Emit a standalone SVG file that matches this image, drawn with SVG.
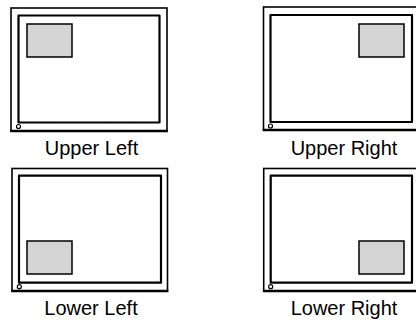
<svg xmlns="http://www.w3.org/2000/svg" width="416" height="320" viewBox="0 0 416 320">
<style>
.outer{fill:none;stroke:#000;stroke-width:1.6}
.base{fill:none;stroke:#000;stroke-width:2.4}
.inner{fill:#fff;stroke:#000;stroke-width:2.2;stroke-linejoin:round}
.win{fill:#d4d4d4;stroke:#000;stroke-width:1.5}
.dot{fill:#fff;stroke:#000;stroke-width:1.2}
.lbl{font-family:"Liberation Sans",Arial,sans-serif;font-size:20px;fill:#000;text-anchor:middle}
</style>
<rect width="416" height="320" fill="#fff"/>
<g id="upper-left">
<rect class="outer" x="11" y="8" width="156" height="123"/>
<line class="base" x1="10.2" y1="131" x2="167.8" y2="131"/>
<rect class="inner" x="18.5" y="15.5" width="141" height="107"/>
<rect class="win" x="27" y="24" width="45" height="33"/>
<circle class="dot" cx="18.5" cy="126.5" r="2"/>
<text class="lbl" x="91.5" y="155">Upper Left</text>
</g>
<g id="upper-right">
<rect class="outer" x="263.5" y="7" width="156" height="123"/>
<line class="base" x1="262.7" y1="130" x2="420" y2="130"/>
<rect class="inner" x="270.5" y="15" width="141.5" height="107"/>
<rect class="win" x="359" y="24" width="45" height="33"/>
<circle class="dot" cx="270.5" cy="126" r="2"/>
<text class="lbl" x="344" y="155">Upper Right</text>
</g>
<g id="lower-left">
<rect class="outer" x="12" y="168.5" width="155.5" height="122.5"/>
<line class="base" x1="11.2" y1="291" x2="168.3" y2="291"/>
<rect class="inner" x="19" y="175.7" width="142" height="107"/>
<rect class="win" x="27" y="241" width="45" height="33"/>
<circle class="dot" cx="19.3" cy="286.7" r="2"/>
<text class="lbl" x="91" y="315">Lower Left</text>
</g>
<g id="lower-right">
<rect class="outer" x="263.7" y="168.5" width="156" height="122.5"/>
<line class="base" x1="262.9" y1="291" x2="420" y2="291"/>
<rect class="inner" x="270.7" y="175.7" width="141.3" height="107"/>
<rect class="win" x="359" y="241" width="45" height="33"/>
<circle class="dot" cx="270.7" cy="286.7" r="2"/>
<text class="lbl" x="344" y="315">Lower Right</text>
</g>
</svg>
